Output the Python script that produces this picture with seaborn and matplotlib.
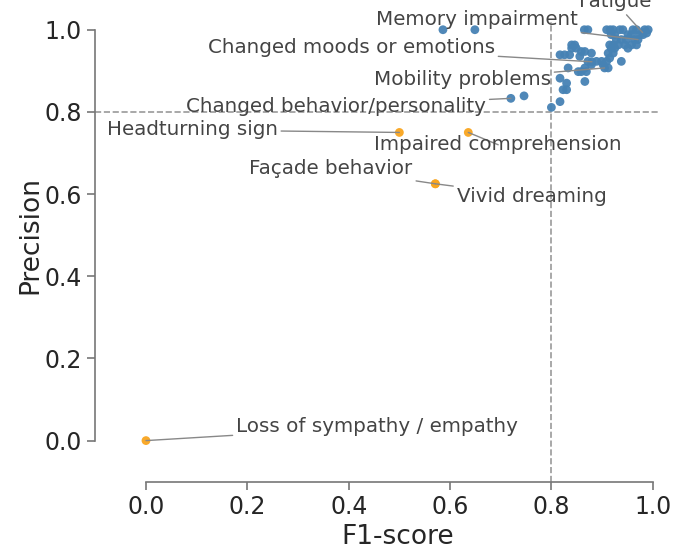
import matplotlib
matplotlib.use("Agg")
import matplotlib.pyplot as plt
import seaborn as sns
import pandas as pd

# ---- data -------------------------------------------------------------
labeled_names = ["Fatigue", "Memory impairment", "Changed moods or emotions",
                 "Mobility problems", "Changed behavior/personality",
                 "Headturning sign", "Impaired comprehension", "Façade behavior",
                 "Vivid dreaming", "Loss of sympathy / empathy"]
labeled_f1 = [0.980, 0.971, 0.880, 0.905, 0.720, 0.500, 0.636, 0.571, 0.571, 0.000]
labeled_prec = [0.993, 0.976, 0.922, 0.907, 0.833, 0.750, 0.750, 0.625, 0.625, 0.000]
label_text_x = [0.925, 0.653, 0.405, 0.624, 0.375, 0.091, 0.695, 0.365, 0.761, 0.456]
label_text_y = [1.068, 1.024, 0.956, 0.878, 0.812, 0.756, 0.720, 0.663, 0.595, 0.034]

other_f1 = [0.586, 0.649, 0.865, 0.872, 0.909, 0.916, 0.922, 0.935, 0.941, 0.961,
            0.968, 0.984, 0.991,
            0.988, 0.918, 0.925, 0.951, 0.958, 0.974, 0.981,
            0.928, 0.938, 0.948, 0.964,
            0.840, 0.846, 0.915, 0.922, 0.932, 0.945, 0.958, 0.968,
            0.840, 0.849, 0.918, 0.925, 0.951,
            0.866, 0.859,
            0.879, 0.912, 0.922,
            0.817, 0.826, 0.836, 0.856,
            0.915,
            0.872, 0.889, 0.899, 0.909, 0.938,
            0.879, 0.902,
            0.833, 0.866, 0.912,
            0.853, 0.859, 0.869,
            0.817, 0.866, 0.830, 0.823, 0.830, 0.817, 0.800,
            0.746]
other_prec = [1.000, 1.000, 1.000, 1.000, 1.000, 1.000, 1.000, 1.000, 1.000, 1.000,
              1.000, 1.000, 1.000,
              0.992, 0.988, 0.988, 0.988, 0.988, 0.988, 0.988,
              0.976, 0.976, 0.976, 0.976,
              0.963, 0.963, 0.963, 0.963, 0.963, 0.963, 0.963, 0.963,
              0.955, 0.955, 0.955, 0.955, 0.955,
              0.947, 0.947,
              0.943, 0.943, 0.943,
              0.939, 0.939, 0.939, 0.935,
              0.931,
              0.923, 0.923, 0.923, 0.923, 0.923,
              0.915, 0.915,
              0.907, 0.907, 0.907,
              0.898, 0.898, 0.898,
              0.882, 0.874, 0.870, 0.854, 0.854, 0.825, 0.811,
              0.839]

threshold = 0.8
color_good = "#4682b4"
color_bad = "#f9a51e"

# ---- frame ------------------------------------------------------------
f1_all = labeled_f1 + other_f1
prec_all = labeled_prec + other_prec
df = pd.DataFrame({"F1-score": f1_all, "Precision": prec_all})
df["group"] = ["low" if (f < threshold and p < threshold) else "high"
               for f, p in zip(f1_all, prec_all)]

sns.set_theme(style="ticks", context="talk")
plt.rcParams["font.family"] = ["DejaVu Sans"]

fig = plt.figure(figsize=(6.74, 5.46), dpi=100)
ax = fig.add_axes([0.1414, 0.1178, 0.8346, 0.8428])

ax.axhline(threshold, color="#999999", ls="--", lw=1.2, zorder=0)
ax.axvline(threshold, color="#999999", ls="--", lw=1.2, zorder=0)

sns.scatterplot(data=df, x="F1-score", y="Precision", hue="group",
                palette={"high": color_good, "low": color_bad},
                s=40, linewidth=0, alpha=0.95, legend=False, ax=ax, zorder=2)

for name, fx, py, tx, ty in zip(labeled_names, labeled_f1, labeled_prec,
                                label_text_x, label_text_y):
    ax.annotate(name, xy=(fx, py), xytext=(tx, ty), ha="center", va="center",
                fontsize=14.3, color="#444444", annotation_clip=False, zorder=3,
                arrowprops=dict(arrowstyle="-", color="#888888", lw=1.0,
                                shrinkA=0, shrinkB=0))

ax.set_xlim(-0.1, 1.01)
ax.set_ylim(-0.1, 1.02)
ax.set_xticks([0.0, 0.2, 0.4, 0.6, 0.8, 1.0])
ax.set_yticks([0.0, 0.2, 0.4, 0.6, 0.8, 1.0])
ax.set_xlabel("F1-score", fontsize=19, color="#262626")
ax.set_ylabel("Precision", fontsize=19, color="#262626")
ax.xaxis.set_label_coords(0.538, -0.091)
ax.yaxis.set_label_coords(-0.093, 0.536)
ax.tick_params(labelsize=17, colors="#777777", labelcolor="#262626", width=1.2, length=6)
sns.despine(ax=ax, trim=True)
for side in ["left", "bottom"]:
    ax.spines[side].set_color("#777777")
    ax.spines[side].set_linewidth(1.2)

fig.savefig("out.png", dpi=100)
